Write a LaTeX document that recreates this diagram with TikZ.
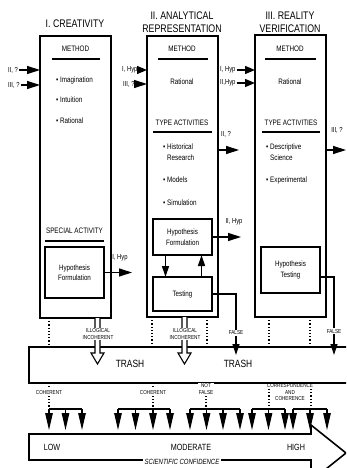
\documentclass[tikz,border=0pt]{standalone}
\usepackage{fontspec}
\setmainfont{Liberation Sans}[FakeStretch=0.8]
\usetikzlibrary{arrows.meta}
\begin{document}
\begin{tikzpicture}[x=1pt,y=-1pt,
  colbox/.style={draw, line width=1.5pt, anchor=north west, inner sep=0pt, outer sep=0pt},
  inbox/.style={draw, line width=1.3pt, anchor=north west, inner sep=0pt, outer sep=0pt, align=center, font=\fontsize{7.8}{10.5}\selectfont},
  ttl/.style={font=\fontsize{11}{13}\selectfont, inner sep=0pt},
  hdg/.style={font=\fontsize{7.9}{9}\selectfont, inner sep=0pt},
  body/.style={font=\fontsize{7.9}{11}\selectfont, inner sep=0pt, align=left},
  lbl/.style={font=\fontsize{7.3}{8}\selectfont, inner sep=0pt},
  tiny/.style={font=\fontsize{5.8}{6.5}\selectfont, inner sep=0.6pt, align=center},
  trashtxt/.style={font=\fontsize{10.5}{11}\selectfont, inner sep=0pt},
  conf/.style={font=\fontsize{9}{10}\selectfont, inner sep=0pt},
  uline/.style={line width=1.9pt},
  harrow/.style={line width=1.3pt, -{Triangle[length=13pt,width=8pt]}},
  sharrow/.style={line width=1.3pt, -{Triangle[length=10pt,width=8pt]}},
  varrow/.style={line width=1.3pt, -{Triangle[length=11pt,width=7pt]}},
  tri/.style={line width=1.1pt, -{Triangle[length=17pt,width=7.5pt]}},
  dotline/.style={line width=1.1pt, dash pattern=on 1.2pt off 2pt},
  hollow/.style={line width=1.1pt, fill=white, line join=miter},
]
\useasboundingbox (0,0) rectangle (346,468);
\fill[white] (0,0) rectangle (346,468);
\clip (0,0) rectangle (346,468);

% ---------- titles ----------
\node[ttl] (t1) at (75,24) {I. CREATIVITY};
\node[ttl, align=center] (t2) at (182,22.5) {II. ANALYTICAL\\REPRESENTATION};
\node[ttl, align=center] (t3) at (290,22.5) {III. REALITY\\VERIFICATION};

% ---------- column boxes ----------
\node[colbox, minimum width=71pt, minimum height=282pt] (c1) at (40,36) {};
\node[colbox, minimum width=71pt, minimum height=281pt] (c2) at (147,36) {};
\node[colbox, minimum width=71pt, minimum height=282pt] (c3) at (255,35) {};

% ---------- column 1 ----------
\node[hdg] (m1) at (75.5,49) {METHOD};
\draw[uline] (52,59) -- (100,59);
\node[body, anchor=west] (i1) at (56,80) {• Imagination};
\node[body, anchor=west] (i2) at (56,100) {• Intuition};
\node[body, anchor=west] (i3) at (56,121) {• Rational};
\node[hdg] (s1) at (74.5,231) {SPECIAL ACTIVITY};
\draw[uline] (45,241) -- (104,241);
\node[inbox, minimum width=59pt, minimum height=51pt] (hf1) at (45,247) {Hypothesis\\Formulation};

\node[lbl, anchor=west] (l1a) at (8,70) {II, ?};
\node[lbl, anchor=west] (l1b) at (8,85) {III, ?};
\draw[harrow] ([xshift=1pt]l1a.east) -- (c1.west |- l1a.east);
\draw[harrow] ([xshift=1pt]l1b.east) -- (c1.west |- l1b.east);

\coordinate (o1) at (132,272.5);
\draw[harrow] (hf1.east) -- (o1);
\node[lbl] (lo1) at (120,258) {I, Hyp};

% ---------- column 2 ----------
\node[hdg] (m2) at (182,49) {METHOD};
\draw[uline] (158,59) -- (208,59);
\node[body] (r2) at (182,82) {Rational};
\node[hdg] (ta2) at (182,123) {TYPE ACTIVITIES};
\draw[uline] (153,132) -- (212,132);
\node[body, anchor=west] (h2) at (163,152.5) {• Historical\\\phantom{• }Research};
\node[body, anchor=west] (mo2) at (163,180) {• Models};
\node[body, anchor=west] (si2) at (163,203) {• Simulation};
\node[inbox, minimum width=59pt, minimum height=36pt] (hf2) at (153,219) {Hypothesis\\Formulation};
\node[inbox, minimum width=59pt, minimum height=34pt] (te2) at (153,277) {Testing};
\draw[varrow] ([xshift=-17pt]hf2.south) -- ([xshift=-17pt]te2.north);
\draw[varrow] ([xshift=19pt]te2.north) -- ([xshift=19pt]hf2.south);

\node[lbl, anchor=west] (l2a) at (122,70) {I, Hyp};
\node[lbl, anchor=west] (l2b) at (123,84) {III, ?};
\draw[sharrow] (l2a.east) -- (c2.west |- l2a.east);
\draw[harrow] ([xshift=1pt]l2b.east) -- (c2.west |- l2b.east);

\coordinate (o2a) at (239,150);
\draw[harrow] (c2.east |- o2a) -- (o2a);
\node[lbl] (lo2a) at (226,134) {II, ?};
\coordinate (o2b) at (241,237);
\draw[harrow] (hf2.east) -- (o2b);
\node[lbl] (lo2b) at (234,222) {II, Hyp};

% ---------- column 3 ----------
\node[hdg] (m3) at (290,49) {METHOD};
\draw[uline] (265,59) -- (316,59);
\node[body] (r3) at (290,82) {Rational};
\node[hdg] (ta3) at (291,123) {TYPE ACTIVITIES};
\draw[uline] (262,132) -- (320,132);
\node[body, anchor=west] (d3) at (266,152.5) {• Descriptive\\\phantom{• }Science};
\node[body, anchor=west] (e3) at (266,180) {• Experimental};
\node[inbox, minimum width=59pt, minimum height=46pt] (ht3) at (261,247) {Hypothesis\\Testing};

\node[lbl, anchor=west] (l3a) at (220,70) {I, Hyp};
\node[lbl, anchor=west] (l3b) at (220,83) {II,Hyp};
\draw[sharrow] ([xshift=1pt]l3a.east) -- (c3.west |- l3a.east);
\draw[sharrow] ([xshift=1pt]l3b.east) -- (c3.west |- l3b.east);

\coordinate (o3) at (346,150);
\draw[harrow] (c3.east |- o3) -- (o3);
\node[lbl] (lo3) at (337,130) {III, ?};

% ---------- trash ----------
\node[draw, line width=1.6pt, anchor=north west, inner sep=0pt, outer sep=0pt,
      minimum width=330pt, minimum height=36pt] (tr) at (29,347) {};
\node[trashtxt] (tx1) at (130,364) {TRASH};
\node[trashtxt] (tx2) at (238,364) {TRASH};

% dotted lines to trash
\draw[dotline] ([xshift=-26.5pt]c1.south) -- ([xshift=-26.5pt]c1.south |- tr.north);
\draw[dotline] ([xshift=-30.5pt]c2.south) -- ([xshift=-30.5pt]c2.south |- tr.north);
\draw[dotline] ([xshift=24.5pt]c2.south) -- ([xshift=24.5pt]c2.south |- tr.north);
\draw[dotline] ([xshift=-21.5pt]c3.south) -- ([xshift=-21.5pt]c3.south |- tr.north);
\draw[dotline] ([xshift=19.5pt]c3.south) -- ([xshift=19.5pt]c3.south |- tr.north);

% hollow arrows (illogical / incoherent)
\draw[hollow] ([xshift=19.5pt]c1.south) -- ++(0,35) -- ++(-4,0) -- ++(6.5,11) -- ++(6.5,-11) -- ++(-4,0) -- ++(0,-35);
\draw[hollow] ([xshift=-0.5pt]c2.south) -- ++(0,36) -- ++(-4,0) -- ++(6.5,11) -- ++(6.5,-11) -- ++(-4,0) -- ++(0,-36);
\node[tiny, fill=white] (il1) at (98,334) {ILLOGICAL\\INCOHERENT};
\node[tiny, fill=white] (il2) at (185,334) {ILLOGICAL\\INCOHERENT};

% false lines
\coordinate (f2) at (236,355);
\draw[varrow] (te2.east) -| (f2);
\node[tiny, fill=white] (fl2) at (236,333) {FALSE};
\coordinate (f3) at (334,355);
\draw[varrow] ([yshift=-7pt]ht3.east) -| (f3);
\node[tiny, fill=white] (fl3) at (334,331) {FALSE};

% ---------- confidence arrow ----------
\draw[line width=1.6pt, line join=miter] (29,434) -- (311,434) -- (311,425) -- (346,453) -- (311,481) -- (311,460) -- (29,460) -- cycle;
\node[conf] (low) at (52,447) {LOW};
\node[conf] (mod) at (191,447) {MODERATE};
\node[conf] (hig) at (296,447) {HIGH};
\node[conf, font=\fontsize{7.5}{9}\selectfont\itshape, fill=white, inner sep=1.5pt] (sc) at (182,462) {SCIENTIFIC CONFIDENCE};

% ---------- paths from trash to confidence ----------
\draw[dotline] (49,383) -- (49,409);
\draw[dotline] (153,383) -- (153,409);
\draw[dotline] (206,383) -- (206,409);
\draw[dotline] (269,389) -- (269,409);
\draw[dotline] (311,389) -- (311,409);
\node[tiny, fill=white] (co1) at (49,392) {COHERENT};
\node[tiny, fill=white] (co2) at (153,392) {COHERENT};
\node[tiny, fill=white] (nf) at (206,389) {NOT\\FALSE};
\node[tiny] (cc) at (290,392) {CORRESPONDENCE\\AND\\COHERENCE};

\draw[line width=1.2pt] (49,409) -- (82,409);
\draw[line width=1.2pt] (118,409) -- (170,409);
\draw[line width=1.2pt] (190,409) -- (240,409);
\draw[line width=1.2pt] (252,409) -- (285,409);
\draw[line width=1.2pt] (293,409) -- (327,409);
\foreach \x in {49,65.5,82, 118,135.5,153,170, 190,206.5,223,240, 252,268.5,285, 293,310,327}{
  \draw[tri] (\x,409) -- (\x,430);
}
\end{tikzpicture}
\end{document}
